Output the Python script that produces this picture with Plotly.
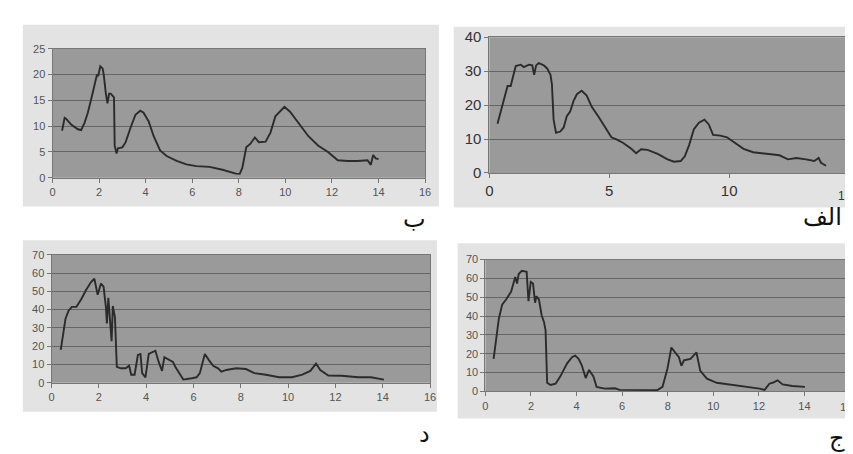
import plotly.graph_objects as go

W, H = 853, 454

# Panel ب (top-left)
b_x = [0.41, 0.52, 0.59, 0.8, 1.09, 1.23, 1.37, 1.51, 1.65, 1.8, 1.91, 1.96, 2.05, 2.15, 2.2, 2.29, 2.36, 2.43, 2.5, 2.64, 2.67, 2.75, 2.81, 3.0, 3.14, 3.35, 3.56, 3.77, 3.91, 4.13, 4.34, 4.62, 4.9, 5.33, 5.75, 6.18, 6.74, 7.3, 7.87, 8.04, 8.15, 8.32, 8.5, 8.69, 8.86, 9.15, 9.36, 9.57, 9.74, 9.96, 10.2, 10.56, 10.98, 11.4, 11.83, 12.25, 12.68, 13.1, 13.53, 13.67, 13.77, 13.88, 14.0]
b_y = [9.1, 11.6, 11.4, 10.3, 9.4, 9.25, 10.6, 12.5, 15.0, 17.8, 20.0, 19.7, 21.6, 21.2, 20.0, 16.3, 14.4, 16.3, 16.3, 15.6, 6.2, 4.7, 5.7, 5.9, 6.9, 9.7, 12.2, 13.0, 12.6, 10.9, 8.1, 5.3, 4.2, 3.25, 2.6, 2.25, 2.1, 1.55, 0.8, 0.75, 1.9, 5.9, 6.6, 7.8, 6.9, 7.0, 8.75, 11.9, 12.8, 13.75, 12.8, 10.6, 8.1, 6.25, 5.0, 3.4, 3.25, 3.25, 3.4, 2.5, 4.4, 3.75, 3.6]

# Panel الف (top-right)
a_x = [0.34, 0.48, 0.62, 0.76, 0.89, 0.99, 1.1, 1.31, 1.44, 1.65, 1.79, 1.87, 1.95, 2.06, 2.27, 2.41, 2.55, 2.61, 2.68, 2.78, 2.96, 3.1, 3.23, 3.37, 3.51, 3.65, 3.85, 4.06, 4.27, 4.54, 4.82, 5.09, 5.3, 5.57, 5.92, 6.12, 6.33, 6.6, 7.02, 7.43, 7.7, 7.98, 8.15, 8.33, 8.53, 8.74, 8.97, 9.15, 9.33, 9.63, 9.91, 10.25, 10.6, 11.0, 11.56, 12.1, 12.45, 12.8, 13.2, 13.55, 13.73, 13.83, 14.04]
a_y = [14.5, 18.0, 21.8, 25.6, 25.6, 28.9, 31.5, 31.9, 31.2, 31.9, 31.7, 28.9, 31.7, 32.4, 31.7, 30.8, 28.9, 26.1, 15.7, 11.8, 12.2, 13.4, 16.7, 18.1, 21.2, 23.2, 24.2, 22.8, 19.5, 16.7, 13.4, 10.5, 9.9, 8.9, 7.1, 5.8, 7.0, 6.8, 5.6, 4.0, 3.3, 3.5, 4.9, 8.2, 12.9, 14.8, 15.7, 14.3, 11.2, 11.0, 10.5, 8.7, 7.1, 6.1, 5.6, 5.2, 4.0, 4.4, 4.0, 3.5, 4.4, 3.0, 2.1]

# Panel د (bottom-left)
d_x = [0.39, 0.49, 0.59, 0.72, 0.86, 1.05, 1.25, 1.46, 1.67, 1.81, 1.88, 1.95, 2.09, 2.2, 2.3, 2.34, 2.4, 2.47, 2.54, 2.59, 2.68, 2.76, 2.93, 3.14, 3.28, 3.37, 3.51, 3.65, 3.76, 3.83, 3.97, 4.11, 4.25, 4.39, 4.53, 4.67, 4.77, 4.95, 5.13, 5.23, 5.44, 5.57, 5.85, 6.13, 6.27, 6.48, 6.66, 6.83, 7.04, 7.18, 7.39, 7.8, 8.22, 8.57, 9.06, 9.62, 10.17, 10.6, 10.94, 11.18, 11.36, 11.7, 12.26, 12.96, 13.5, 14.05]
d_y = [18.0, 27.1, 35.0, 39.4, 41.5, 41.5, 45.5, 50.75, 55.1, 56.9, 51.6, 48.1, 54.25, 52.5, 41.1, 32.4, 46.4, 35.9, 22.75, 42.0, 35.9, 8.75, 7.9, 7.9, 9.3, 4.4, 4.4, 15.2, 15.75, 5.25, 3.0, 15.75, 16.6, 17.5, 11.4, 6.5, 14.0, 12.8, 11.4, 8.75, 4.4, 1.75, 2.3, 3.0, 5.25, 15.75, 12.25, 9.3, 7.9, 6.1, 7.0, 7.9, 7.5, 5.25, 4.4, 3.0, 3.0, 4.4, 6.5, 10.5, 7.0, 4.0, 3.85, 3.0, 3.0, 1.75]

# Panel ج (bottom-right)
j_x = [0.36, 0.48, 0.59, 0.74, 0.91, 1.13, 1.31, 1.39, 1.46, 1.6, 1.81, 1.89, 1.99, 2.09, 2.18, 2.24, 2.35, 2.47, 2.57, 2.64, 2.71, 2.86, 3.08, 3.29, 3.58, 3.8, 3.94, 4.09, 4.23, 4.4, 4.55, 4.74, 4.88, 5.24, 5.68, 5.89, 6.54, 7.12, 7.55, 7.77, 7.99, 8.16, 8.35, 8.49, 8.6, 8.71, 9.0, 9.26, 9.43, 9.72, 10.15, 10.87, 11.6, 12.03, 12.25, 12.46, 12.6, 12.82, 13.04, 13.47, 14.02]
j_y = [17.3, 29.2, 38.6, 46.2, 48.8, 53.0, 60.7, 57.3, 62.3, 64.0, 63.5, 47.9, 58.1, 57.3, 47.1, 50.5, 48.8, 40.3, 36.9, 32.6, 4.6, 3.4, 4.1, 8.0, 14.8, 18.2, 19.0, 17.3, 13.9, 7.1, 11.4, 8.0, 2.4, 1.5, 1.7, 0.85, 0.85, 0.7, 0.7, 2.4, 12.2, 23.3, 20.7, 18.2, 13.6, 16.5, 17.3, 20.7, 10.9, 6.8, 4.6, 3.4, 2.5, 1.5, 0.85, 4.1, 4.6, 5.9, 3.7, 2.9, 2.4]

panel_labels = ["ب", "الف", "د", "ج"]
a_xticks = [0, 5, 10]
a_last_tick = "15"
j_xticks = [0, 2, 4, 6, 8, 10, 12, 14]
j_last_tick = "16"

def px_x(p):
    return p / W

def px_y(p):
    return 1 - p / H

panels = [
    dict(x=b_x, y=b_y, xr=[0, 16], yr=[0, 25], xd=2, yd=5, plot=(41, 418, 33, 167), box=(11, 432, 8, 197), lab=(407, 210), fs=11, fc="#555555"),
    dict(x=a_x, y=a_y, xr=[0, 15], yr=[0, 40], xd=5, yd=10, plot=(483, 847, 21, 162), box=(447, 853, 10, 198), lab=(820, 208), fs=15, fc="#333333"),
    dict(x=d_x, y=d_y, xr=[0, 16], yr=[0, 70], xd=2, yd=10, plot=(40, 423, 247, 380), box=(11, 430, 232, 410), lab=(417, 433), fs=11, fc="#555555"),
    dict(x=j_x, y=j_y, xr=[0, 16], yr=[0, 70], xd=2, yd=10, plot=(479, 848, 252, 389), box=(451, 853, 235, 417), lab=(835, 437), fs=11, fc="#555555"),
]

fig = go.Figure()
shapes = []
annotations = []
for i, p in enumerate(panels):
    n = "" if i == 0 else str(i + 1)
    fig.add_trace(go.Scatter(x=p["x"], y=p["y"], mode="lines",
                             line=dict(color="#2b2b2b", width=1.9),
                             xaxis="x" + n, yaxis="y" + n, showlegend=False,
                             hoverinfo="skip"))
    l, r, t, b = p["plot"]
    xax = dict(
        domain=[px_x(l), px_x(r)], range=p["xr"], dtick=p["xd"], tick0=0,
        anchor="y" + n, showgrid=False, zeroline=False,
        ticks="outside", ticklen=4, tickcolor="#777777",
        showline=True, linecolor="#777777", linewidth=1, mirror=True,
        tickfont=dict(family="Liberation Sans, Arial", size=p["fs"], color=p["fc"]))
    if i == 1:
        xax.update(tickmode="array", tickvals=a_xticks, ticktext=[str(v) for v in a_xticks])
    if i == 3:
        xax.update(tickmode="array", tickvals=j_xticks, ticktext=[str(v) for v in j_xticks])
    fig.layout["xaxis" + n] = xax
    fig.layout["yaxis" + n] = dict(
        domain=[px_y(b), px_y(t)], range=p["yr"], dtick=p["yd"], tick0=0,
        anchor="x" + n, showgrid=True, gridcolor="#666666", gridwidth=1,
        zeroline=False, ticks="outside", ticklen=4, tickcolor="#777777",
        showline=True, linecolor="#777777", linewidth=1, mirror=True,
        tickfont=dict(family="Liberation Sans, Arial", size=p["fs"], color=p["fc"]))
    bl, br, bt, bb = p["box"]
    shapes.append(dict(type="rect", xref="paper", yref="paper", layer="below",
                       x0=px_x(bl), x1=px_x(br), y0=px_y(bb), y1=px_y(bt),
                       fillcolor="#e3e3e3", line=dict(width=0)))
    shapes.append(dict(type="rect", xref="x" + n + " domain", yref="y" + n + " domain",
                       layer="below", x0=0, x1=1, y0=0, y1=1,
                       fillcolor="#9a9a9a", line=dict(width=0)))
    lx, ly = p["lab"]
    annotations.append(dict(text=panel_labels[i], xref="paper", yref="paper",
                            x=px_x(lx), y=px_y(ly), xanchor="center", yanchor="middle",
                            showarrow=False,
                            font=dict(family="DejaVu Sans", size=24, color="#111111")))

# last tick labels of the right-hand panels, which sit at the page edge
annotations.append(dict(text=a_last_tick, xref="paper", yref="paper",
                        x=px_x(852), y=px_y(186), xanchor="right", yanchor="middle",
                        showarrow=False,
                        font=dict(family="Liberation Sans, Arial", size=12, color="#333333")))
annotations.append(dict(text=j_last_tick, xref="paper", yref="paper",
                        x=px_x(852), y=px_y(405), xanchor="right", yanchor="middle",
                        showarrow=False,
                        font=dict(family="Liberation Sans, Arial", size=11, color="#555555")))

fig.update_layout(width=W, height=H, margin=dict(l=0, r=0, t=0, b=0),
                  paper_bgcolor="white", plot_bgcolor="#9a9a9a",
                  shapes=shapes, annotations=annotations)

fig.write_html("out.html")
